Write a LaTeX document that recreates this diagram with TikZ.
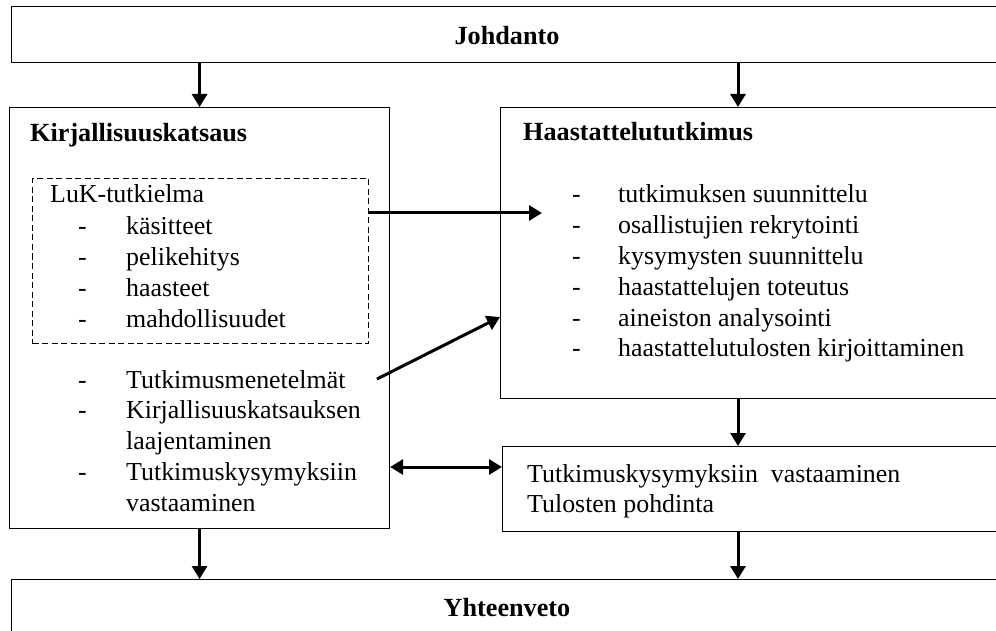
\documentclass[tikz,border=0pt]{standalone}
\usepackage{fontspec}
\setmainfont{Liberation Serif}
\usetikzlibrary{arrows.meta}
\tikzset{
  box/.style={draw, line width=1.1pt, rectangle, inner sep=0pt, anchor=north west},
  dbox/.style={draw, line width=1pt, dash pattern=on 6pt off 3.5pt, rectangle, inner sep=0pt, anchor=north west},
  txt/.style={inner sep=0pt, anchor=base west, font=\fontsize{25.9}{30.8}\selectfont},
  ttl/.style={inner sep=0pt, font=\fontsize{26.2}{30.8}\selectfont\bfseries},
  arr/.style={line width=3pt, -{Triangle[length=13pt,width=15pt]}},
  darr/.style={line width=3pt, {Triangle[length=13pt,width=15pt]}-{Triangle[length=13pt,width=15pt]}},
}
\begin{document}
\begin{tikzpicture}[x=1pt,y=-1pt]
\useasboundingbox (0,0) rectangle (996,631);
\clip (0,0) rectangle (996,631);
% boxes
\node[box, minimum width=1010pt, minimum height=56pt] (joh) at (11,6) {};
\node[box, minimum width=380pt, minimum height=421pt] (kirj) at (9,107) {};
\node[dbox, minimum width=336pt, minimum height=165pt] (luk) at (32,178) {};
\node[box, minimum width=520pt, minimum height=291pt] (haast) at (500,107) {};
\node[box, minimum width=520pt, minimum height=85pt] (res) at (502,446) {};
\node[box, minimum width=1010pt, minimum height=80pt] (yht) at (11,579) {};
% texts
\node[ttl, anchor=base] (jt) at (507,45) {Johdanto};
\node[ttl, anchor=base] (yt) at (507,616) {Yhteenveto};
\node[ttl, anchor=base west] (kt) at (30,142) {Kirjallisuuskatsaus};
\node[ttl, anchor=base west] (ht) at (523,141) {Haastattelututkimus};
\node[txt] (lukt) at (50,203) {LuK-tutkielma};
\node[txt] (luklist) at (78,235) {\begin{tabular}[t]{@{}p{48pt}@{}l@{}}
-&käsitteet\\
-&pelikehitys\\
-&haasteet\\
-&mahdollisuudet
\end{tabular}};
\node[txt] (klist) at (78,388) {\begin{tabular}[t]{@{}p{48pt}@{}l@{}}
-&Tutkimusmenetelmät\\
-&Kirjallisuuskatsauksen\\
&laajentaminen\\
-&Tutkimuskysymyksiin\\
&vastaaminen
\end{tabular}};
\node[txt] (hlist) at (572,203) {\begin{tabular}[t]{@{}p{46pt}@{}l@{}}
-&tutkimuksen suunnittelu\\
-&osallistujien rekrytointi\\
-&kysymysten suunnittelu\\
-&haastattelujen toteutus\\
-&aineiston analysointi\\
-&haastattelutulosten kirjoittaminen
\end{tabular}};
\node[txt] (rlist) at (527,482) {\begin{tabular}[t]{@{}l@{}}
Tutkimuskysymyksiin\ \ vastaaminen\\
Tulosten pohdinta
\end{tabular}};
% helper coordinates
\coordinate (hx) at (738,0);
\coordinate (a1) at (542,213);
\coordinate (a2s) at (377,379);
\coordinate (a2y) at (0,317);
\coordinate (dy) at (0,467);
% connectors
\draw[arr] (joh.south -| kirj.north) -- (kirj.north);
\draw[arr] (joh.south -| hx) -- (haast.north -| hx);
\draw[arr] (luk.east |- a1) -- (a1);
\draw[arr] (a2s) -- (haast.west |- a2y);
\draw[arr] (haast.south -| hx) -- (res.north -| hx);
\draw[darr] (kirj.east |- dy) -- (res.west |- dy);
\draw[arr] (kirj.south) -- (yht.north -| kirj.south);
\draw[arr] (res.south -| hx) -- (yht.north -| hx);
\end{tikzpicture}
\end{document}
